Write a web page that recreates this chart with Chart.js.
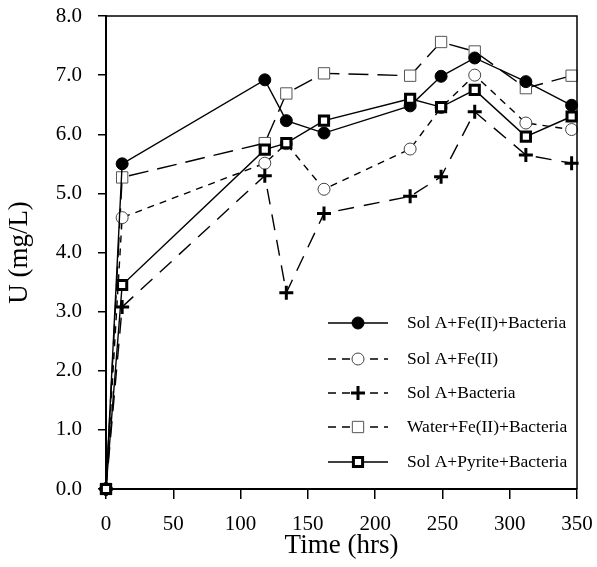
<!DOCTYPE html>
<html>
<head>
<meta charset="utf-8">
<script src="https://cdn.jsdelivr.net/npm/chart.js@4"></script>
<style>
  html, body { margin: 0; padding: 0; background: #fff; }
  #wrap { width: 597px; height: 567px; position: relative; }
</style>
</head>
<body>
<div id="wrap"><canvas id="grafico"></canvas></div>
<script>
// tiempos de muestreo (hrs)
const tiempos = [0, 12, 118, 134, 162, 226, 249, 274, 312, 346];

// U (mg/L) por serie
const solAFeBact = [0, 5.50, 6.92, 6.23, 6.02, 6.48, 6.98, 7.29, 6.89, 6.49];
const solAFe = [0, 4.59, 5.51, 5.84, 5.07, 5.75, 6.45, 7.00, 6.19, 6.08];
const solABact = [0, 3.08, 5.30, 3.32, 4.66, 4.95, 5.28, 6.38, 5.65, 5.51];
const aguaFeBact = [0, 5.27, 5.85, 6.69, 7.03, 6.99, 7.56, 7.40, 6.78, 6.99];
const solAPiritaBact = [0, 3.45, 5.74, 5.85, 6.23, 6.60, 6.46, 6.75, 5.96, 6.30];

const nombres = [
    'Sol A+Fe(II)+Bacteria',
    'Sol A+Fe(II)',
    'Sol A+Bacteria',
    'Water+Fe(II)+Bacteria',
    'Sol A+Pyrite+Bacteria'
];

const ticksX = [0, 50, 100, 150, 200, 250, 300, 350];
const ticksY = [0, 1, 2, 3, 4, 5, 6, 7, 8];

const fuente = "'Liberation Serif', 'Times New Roman', serif";

function puntos(valores) {
    return tiempos.map((t, i) => ({ x: t, y: valores[i] }));
}

const estilos = [
    { dash: [], style: 'circle', radius: 6, bg: '#000', border: '#000', bw: 1, order: 1 },
    { dash: [7, 6], style: 'circle', radius: 6, bg: '#fff', border: '#444', bw: 1, order: 3 },
    { dash: [16, 10], style: 'cross', radius: 7, bg: '#000', border: '#000', bw: 3, order: 2 },
    { dash: [20, 9], style: 'rect', radius: 8, bg: '#fff', border: '#555', bw: 1, order: 4 },
    { dash: [], style: 'rect', radius: 6.5, bg: '#fff', border: '#000', bw: 3, order: 0 }
];

const series = [solAFeBact, solAFe, solABact, aguaFeBact, solAPiritaBact];

const datasets = series.map((s, i) => ({
    label: nombres[i],
    data: puntos(s),
    borderColor: '#000',
    borderWidth: 1.4,
    borderDash: estilos[i].dash,
    pointStyle: estilos[i].style,
    pointRadius: estilos[i].radius,
    pointBackgroundColor: estilos[i].bg,
    pointBorderColor: estilos[i].border,
    pointBorderWidth: estilos[i].bw,
    fill: false,
    tension: 0,
    clip: false,
    order: estilos[i].order
}));

function dibujarMarcador(ctx, st, x, y) {
    ctx.save();
    ctx.setLineDash([]);
    ctx.fillStyle = st.bg;
    ctx.strokeStyle = st.border;
    ctx.lineWidth = st.bw;
    ctx.beginPath();
    if (st.style === 'circle') {
        ctx.arc(x, y, st.radius, 0, Math.PI * 2);
        ctx.fill();
        ctx.stroke();
    } else if (st.style === 'rect') {
        const s = st.radius / Math.SQRT2;
        ctx.rect(x - s, y - s, 2 * s, 2 * s);
        ctx.fill();
        ctx.stroke();
    } else {
        ctx.moveTo(x - st.radius, y);
        ctx.lineTo(x + st.radius, y);
        ctx.moveTo(x, y - st.radius);
        ctx.lineTo(x, y + st.radius);
        ctx.stroke();
    }
    ctx.restore();
}

// marco superior/derecho y leyenda dentro del area
const marcoLeyenda = {
    id: 'marcoLeyenda',
    afterDraw(chart) {
        const ctx = chart.ctx;
        const a = chart.chartArea;
        ctx.save();
        ctx.strokeStyle = '#000';
        ctx.lineWidth = 1.5;
        ctx.beginPath();
        ctx.moveTo(a.left, a.top);
        ctx.lineTo(a.right, a.top);
        ctx.lineTo(a.right, a.bottom);
        ctx.stroke();

        const filas = [323, 359, 393, 427, 462];
        ctx.font = '17.5px ' + fuente;
        ctx.textBaseline = 'middle';
        ctx.textAlign = 'left';
        nombres.forEach((n, i) => {
            const y = filas[i];
            ctx.save();
            ctx.strokeStyle = '#000';
            ctx.lineWidth = 1.4;
            ctx.setLineDash(estilos[i].dash.length ? [8, 6] : []);
            ctx.beginPath();
            ctx.moveTo(328, y);
            ctx.lineTo(388, y);
            ctx.stroke();
            ctx.restore();
            dibujarMarcador(ctx, estilos[i], 358, y);
            ctx.fillStyle = '#000';
            ctx.fillText(n, 407, y);
        });
        ctx.restore();
    }
};

new Chart(document.getElementById('grafico'), {
    type: 'line',
    data: { datasets: datasets },
    options: {
        responsive: true,
        maintainAspectRatio: false,
        animation: false,
        layout: { padding: { left: 0, right: 20, top: 16, bottom: 0 } },
        plugins: {
            legend: { display: false },
            tooltip: { enabled: false }
        },
        scales: {
            x: {
                type: 'linear',
                min: 0,
                max: 350,
                afterBuildTicks: (scale) => { scale.ticks = ticksX.map(v => ({ value: v })); },
                afterFit: (scale) => {
                    scale.height = 78;
                    scale.paddingLeft = 0;
                    scale.paddingRight = 0;
                },
                border: { display: true, color: '#000', width: 2 },
                grid: { drawOnChartArea: false, drawTicks: true, tickLength: 10, color: '#000', lineWidth: 1.5 },
                ticks: { color: '#000', padding: 13, font: { family: fuente, size: 21 } },
                title: {
                    display: true,
                    text: 'Time (hrs)',
                    color: '#000',
                    font: { family: fuente, size: 27 },
                    padding: { top: 0, bottom: 5 }
                }
            },
            y: {
                type: 'linear',
                min: 0,
                max: 8,
                afterBuildTicks: (scale) => { scale.ticks = ticksY.map(v => ({ value: v })); },
                afterFit: (scale) => {
                    scale.width = 106;
                    scale.paddingTop = 0;
                    scale.paddingBottom = 0;
                },
                border: { display: true, color: '#000', width: 2 },
                grid: { drawOnChartArea: false, drawTicks: true, tickLength: 8, color: '#000', lineWidth: 1.5 },
                ticks: {
                    color: '#000',
                    padding: 16,
                    font: { family: fuente, size: 21 },
                    callback: (v) => Number(v).toFixed(1)
                },
                title: {
                    display: true,
                    text: 'U (mg/L)',
                    color: '#000',
                    font: { family: fuente, size: 27 },
                    padding: { top: 4, bottom: 0 }
                }
            }
        }
    },
    plugins: [marcoLeyenda]
});
</script>
</body>
</html>
